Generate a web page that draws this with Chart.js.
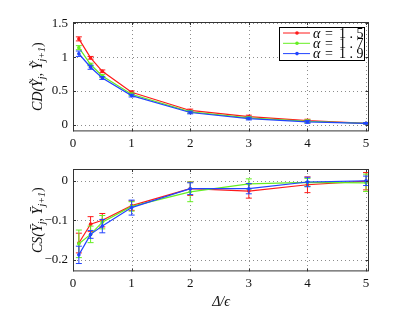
<!DOCTYPE html>
<html>
<head>
<meta charset="utf-8">
<script src="https://cdn.jsdelivr.net/npm/chart.js@4"></script>
<style>
  html, body { margin: 0; padding: 0; background: #fff; }
  .wrap { position: absolute; left: 0; width: 407px; }
  #top { top: 0; height: 155px; }
  #bot { top: 155px; height: 154px; }
</style>
</head>
<body>
<div class="wrap" id="top"><canvas id="cdChart"></canvas></div>
<div class="wrap" id="bot"><canvas id="csChart"></canvas></div>
<script>
// === DATA ===
const deltas = [0.1, 0.3, 0.5, 1, 2, 3, 4, 5];
const alphaLabels = ['α = 1.5', 'α = 1.7', 'α = 1.9'];
const colors = ['#ff1a1a', '#66ee22', '#2244ff'];

// CD(Y_j, Y_j+1)
const cd15 = [1.27, 0.99, 0.79, 0.48, 0.21, 0.12, 0.06, 0.02];
const cd17 = [1.14, 0.89, 0.72, 0.45, 0.19, 0.10, 0.05, 0.02];
const cd19 = [1.05, 0.85, 0.69, 0.43, 0.18, 0.09, 0.04, 0.02];
const cdErr15 = [0.03, 0.02, 0.02, 0.02, 0.02, 0.02, 0.02, 0.01];
const cdErr17 = [0.03, 0.02, 0.02, 0.02, 0.02, 0.02, 0.02, 0.01];
const cdErr19 = [0.04, 0.03, 0.02, 0.02, 0.02, 0.02, 0.02, 0.01];

// CS(Y_j, Y_j+1)
const cs15 = [-0.158, -0.110, -0.100, -0.063, -0.020, -0.026, -0.010, -0.001];
const cs17 = [-0.160, -0.136, -0.105, -0.065, -0.028, -0.008, -0.004, -0.005];
const cs19 = [-0.188, -0.136, -0.115, -0.068, -0.020, -0.020, -0.003, 0.000];
const csErr15 = [0.025, 0.019, 0.017, 0.012, 0.017, 0.018, 0.020, 0.022];
const csErr17 = [0.035, 0.021, 0.017, 0.012, 0.025, 0.013, 0.010, 0.022];
const csErr19 = [0.022, 0.010, 0.017, 0.019, 0.015, 0.013, 0.012, 0.012];

const xTicks = [0, 1, 2, 3, 4, 5];
const cdTicks = [0, 0.5, 1, 1.5];
const csTicks = [-0.2, -0.1, 0];

const serif = '"Liberation Serif", "DejaVu Serif", serif';

// dotted grid (drawn by hand so the dots are sure)
const dottedGrid = {
  id: 'dottedGrid',
  beforeDatasetsDraw(chart) {
    const { ctx, chartArea: a } = chart;
    const xs = chart.scales.x, ys = chart.scales.y;
    ctx.save();
    ctx.strokeStyle = '#8c8c8c';
    ctx.lineWidth = 1;
    ctx.setLineDash([1, 3]);
    ctx.beginPath();
    xs.ticks.forEach(t => {
      const px = Math.round(xs.getPixelForValue(t.value)) + 0.5;
      ctx.moveTo(px, a.top); ctx.lineTo(px, a.bottom);
    });
    ys.ticks.forEach(t => {
      const py = Math.round(ys.getPixelForValue(t.value)) + 0.5;
      ctx.moveTo(a.left, py); ctx.lineTo(a.right, py);
    });
    ctx.stroke();
    ctx.restore();
  }
};

// error bars, drawn right after each dataset so the stacking matches
const errorBars = {
  id: 'errorBars',
  afterDatasetDraw(chart, args) {
    const ds = chart.data.datasets[args.index];
    if (!ds.err) return;
    const { ctx } = chart;
    const xs = chart.scales.x, ys = chart.scales.y;
    ctx.save();
    ctx.strokeStyle = ds.borderColor;
    ctx.lineWidth = 1;
    ds.data.forEach((p, i) => {
      const px = xs.getPixelForValue(p.x);
      const y1 = ys.getPixelForValue(p.y - ds.err[i]);
      const y2 = ys.getPixelForValue(p.y + ds.err[i]);
      ctx.beginPath();
      ctx.moveTo(px, y1); ctx.lineTo(px, y2);
      ctx.moveTo(px - 3, y1); ctx.lineTo(px + 3, y1);
      ctx.moveTo(px - 3, y2); ctx.lineTo(px + 3, y2);
      ctx.stroke();
    });
    ctx.restore();
  }
};

// axes box with inner ticks like matlab
const boxPlugin = {
  id: 'box',
  afterDraw(chart) {
    const { ctx, chartArea: a } = chart;
    const xs = chart.scales.x, ys = chart.scales.y;
    ctx.save();
    ctx.strokeStyle = '#333';
    ctx.lineWidth = 1;
    ctx.strokeRect(a.left + 0.5, a.top + 0.5, a.right - a.left - 1, a.bottom - a.top - 1);
    ctx.beginPath();
    xs.ticks.forEach(t => {
      const px = Math.round(xs.getPixelForValue(t.value)) + 0.5;
      ctx.moveTo(px, a.bottom); ctx.lineTo(px, a.bottom - 3);
      ctx.moveTo(px, a.top); ctx.lineTo(px, a.top + 3);
    });
    ys.ticks.forEach(t => {
      const py = Math.round(ys.getPixelForValue(t.value)) + 0.5;
      ctx.moveTo(a.left, py); ctx.lineTo(a.left + 3, py);
      ctx.moveTo(a.right, py); ctx.lineTo(a.right - 3, py);
    });
    ctx.stroke();
    ctx.restore();
  }
};

// rotated y title with real subscripts
const yTitle = {
  id: 'yTitle',
  afterDraw(chart, args, opts) {
    const { ctx, chartArea: a } = chart;
    const parts = opts.parts;
    const fontOf = p => (p.it ? 'italic ' : '') + (p.sub ? 10 : 14) + 'px ' + serif;
    let total = 0;
    parts.forEach(p => { ctx.font = fontOf(p); total += ctx.measureText(p.t).width; });
    ctx.save();
    ctx.translate(opts.x, (a.top + a.bottom) / 2);
    ctx.rotate(-Math.PI / 2);
    ctx.fillStyle = '#111';
    ctx.textBaseline = 'middle';
    let x = -total / 2;
    parts.forEach(p => {
      ctx.font = fontOf(p);
      ctx.fillText(p.t, x, p.sub ? 4 : 0);
      x += ctx.measureText(p.t).width;
    });
    ctx.restore();
  }
};

// legend box in the upper right of the top plot
const legendBox = {
  id: 'legendBox',
  afterDraw(chart) {
    const { ctx } = chart;
    const x0 = 279, y0 = 27, w = 85, h = 33;
    ctx.save();
    ctx.fillStyle = '#fff';
    ctx.fillRect(x0, y0, w, h);
    ctx.strokeStyle = '#000';
    ctx.lineWidth = 1;
    ctx.strokeRect(x0 + 0.5, y0 + 0.5, w, h);
    alphaLabels.forEach((lab, i) => {
      const y = y0 + 6 + i * 10.3;
      ctx.strokeStyle = colors[i];
      ctx.beginPath();
      ctx.moveTo(x0 + 4, y); ctx.lineTo(x0 + 31, y);
      ctx.stroke();
      ctx.fillStyle = colors[i];
      ctx.beginPath();
      ctx.arc(x0 + 18, y, 1.8, 0, Math.PI * 2);
      ctx.fill();
      ctx.fillStyle = '#000';
      ctx.textBaseline = 'middle';
      ctx.font = 'italic 14px ' + serif;
      ctx.fillText('α', x0 + 34, y + 1);
      ctx.font = '14px ' + serif;
      ctx.fillText('=', x0 + 46, y + 1);
      ctx.fillText('1 . ' + lab.slice(-1), x0 + 60, y + 1);
    });
    ctx.restore();
  }
};

function makeSets(series, errs) {
  return series.map((vals, k) => ({
    label: alphaLabels[k],
    data: deltas.map((d, i) => ({ x: d, y: vals[i] })),
    err: errs[k],
    borderColor: colors[k],
    backgroundColor: colors[k],
    borderWidth: 1.2,
    pointRadius: 1.8,
    pointBorderWidth: 0,
    tension: 0,
    order: 3 - k
  }));
}

function makeOptions(yMin, yMax, yTicks, titleParts, showXTitle, topPad) {
  return {
    responsive: true,
    maintainAspectRatio: false,
    animation: false,
    layout: { padding: { top: topPad, right: 38, bottom: 0, left: 0 } },
    plugins: {
      legend: { display: false },
      tooltip: { enabled: false },
      yTitle: { parts: titleParts, x: 38 }
    },
    scales: {
      x: {
        type: 'linear',
        min: 0, max: 5.05,
        afterBuildTicks: s => { s.ticks = xTicks.map(v => ({ value: v })); },
        grid: { display: false, drawTicks: false },
        border: { display: false },
        ticks: { color: '#111', padding: 4, maxRotation: 0, font: { family: serif, size: 13 },
                 callback: v => String(v) },
        title: { display: showXTitle, text: 'Δ/ϵ', color: '#111', padding: { top: 0, bottom: 0 },
                 font: { family: serif, size: 14, style: 'italic', lineHeight: 1 } }
      },
      y: {
        min: yMin, max: yMax,
        afterBuildTicks: s => { s.ticks = yTicks.map(v => ({ value: v })); },
        afterFit: s => { s.width = 73; },
        grid: { display: false, drawTicks: false },
        border: { display: false },
        ticks: { color: '#111', padding: 5, font: { family: serif, size: 13 },
                 callback: v => String(v).replace('-', '−') }
      }
    }
  };
}

const cdTitle = [
  { t: 'CD(', it: true }, { t: 'Ỹ', it: true }, { t: 'j', it: true, sub: true },
  { t: ', ' }, { t: 'Ỹ', it: true }, { t: 'j+1', it: true, sub: true }, { t: ')' }
];
const csTitle = [
  { t: 'CS(', it: true }, { t: 'Ȳ', it: true }, { t: 'j', it: true, sub: true },
  { t: ', ' }, { t: 'Ȳ', it: true }, { t: 'j+1', it: true, sub: true }, { t: ')' }
];

new Chart(document.getElementById('cdChart'), {
  type: 'line',
  data: { datasets: makeSets([cd15, cd17, cd19], [cdErr15, cdErr17, cdErr19]) },
  options: makeOptions(-0.1, 1.52, cdTicks, cdTitle, false, 22),
  plugins: [dottedGrid, errorBars, boxPlugin, legendBox, yTitle]
});

new Chart(document.getElementById('csChart'), {
  type: 'line',
  data: { datasets: makeSets([cs15, cs17, cs19], [csErr15, csErr17, csErr19]) },
  options: makeOptions(-0.23, 0.03, csTicks, csTitle, true, 14),
  plugins: [dottedGrid, errorBars, boxPlugin, yTitle]
});
</script>
</body>
</html>
